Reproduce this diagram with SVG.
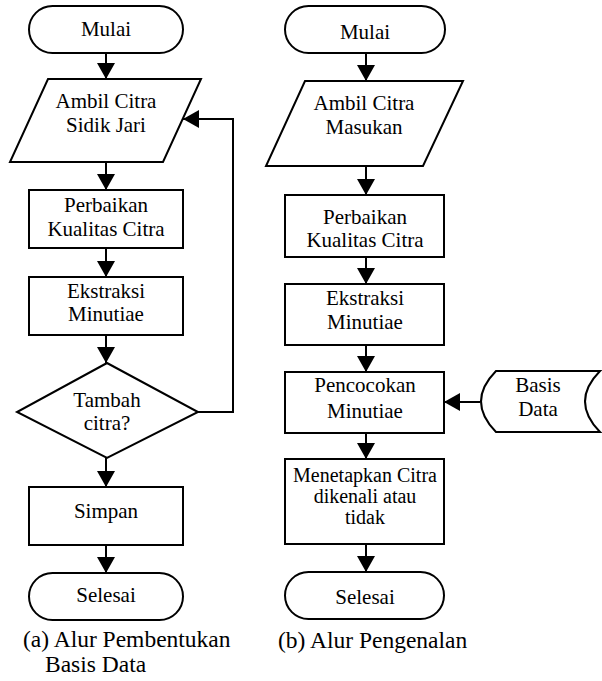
<svg xmlns="http://www.w3.org/2000/svg" width="602" height="681" viewBox="0 0 602 681">
<defs>
<style>
.s{fill:#fff;stroke:#000;stroke-width:2}
.t{font-family:'Liberation Serif','Times New Roman',serif;font-size:21px;fill:#000;text-anchor:middle}
.c{font-family:'Liberation Serif','Times New Roman',serif;font-size:23.5px;fill:#000}
.e{fill:none;stroke:#000;stroke-width:2}
</style>
<marker id="ah" markerWidth="16" markerHeight="18" refX="16" refY="9" orient="auto" markerUnits="userSpaceOnUse">
<path d="M0,0 L16,9 L0,18 Z" fill="#000"/>
</marker>
</defs>
<rect width="602" height="681" fill="#fff"/>
<g id="connectors">
<line class="e" x1="106" y1="53" x2="106" y2="79" marker-end="url(#ah)"/>
<line class="e" x1="106" y1="162" x2="106" y2="190" marker-end="url(#ah)"/>
<line class="e" x1="106" y1="248" x2="106" y2="277" marker-end="url(#ah)"/>
<line class="e" x1="106" y1="335" x2="106" y2="363" marker-end="url(#ah)"/>
<line class="e" x1="106" y1="458" x2="106" y2="487" marker-end="url(#ah)"/>
<line class="e" x1="106" y1="545" x2="106" y2="573" marker-end="url(#ah)"/>
<polyline class="e" points="198,412 233,412 233,119 183,119" marker-end="url(#ah)"/>
<line class="e" x1="366" y1="53" x2="366" y2="81" marker-end="url(#ah)"/>
<line class="e" x1="366" y1="166" x2="366" y2="195" marker-end="url(#ah)"/>
<line class="e" x1="366" y1="257" x2="366" y2="284" marker-end="url(#ah)"/>
<line class="e" x1="366" y1="345" x2="366" y2="372" marker-end="url(#ah)"/>
<line class="e" x1="366" y1="433" x2="366" y2="459" marker-end="url(#ah)"/>
<line class="e" x1="366" y1="544" x2="366" y2="572" marker-end="url(#ah)"/>
<line class="e" x1="480" y1="402" x2="444" y2="402" marker-end="url(#ah)"/>
</g>
<g id="a-mulai">
<rect class="s" x="29" y="6" width="154" height="47" rx="23.5"/>
<text class="t" x="106" y="36">Mulai</text>
</g>
<g id="a-ambil">
<polygon class="s" points="48,79 201,79 163,162 10,162"/>
<text class="t" x="106" y="108">Ambil Citra</text>
<text class="t" x="106" y="132">Sidik Jari</text>
</g>
<g id="a-perbaikan">
<rect class="s" x="29" y="190" width="154" height="58"/>
<text class="t" x="106" y="212">Perbaikan</text>
<text class="t" x="106" y="236">Kualitas Citra</text>
</g>
<g id="a-ekstraksi">
<rect class="s" x="29" y="277" width="154" height="58"/>
<text class="t" x="106" y="298">Ekstraksi</text>
<text class="t" x="106" y="321">Minutiae</text>
</g>
<g id="a-tambah">
<polygon class="s" points="107,363 198,412 107,458 17,412"/>
<text class="t" x="107" y="407">Tambah</text>
<text class="t" x="107" y="430">citra?</text>
</g>
<g id="a-simpan">
<rect class="s" x="29" y="487" width="154" height="58"/>
<text class="t" x="106" y="518">Simpan</text>
</g>
<g id="a-selesai">
<rect class="s" x="29" y="573" width="154" height="47" rx="23.5"/>
<text class="t" x="106" y="602">Selesai</text>
</g>
<g id="b-mulai">
<rect class="s" x="285" y="6" width="160" height="47" rx="23.5"/>
<text class="t" x="365" y="39">Mulai</text>
</g>
<g id="b-ambil">
<polygon class="s" points="305,81 463,81 423,166 266,166"/>
<text class="t" x="364" y="110">Ambil Citra</text>
<text class="t" x="364" y="134">Masukan</text>
</g>
<g id="b-perbaikan">
<rect class="s" x="285" y="195" width="159" height="62"/>
<text class="t" x="365" y="224">Perbaikan</text>
<text class="t" x="365" y="247">Kualitas Citra</text>
</g>
<g id="b-ekstraksi">
<rect class="s" x="285" y="284" width="159" height="61"/>
<text class="t" x="365" y="305">Ekstraksi</text>
<text class="t" x="365" y="329">Minutiae</text>
</g>
<g id="b-pencocokan">
<rect class="s" x="285" y="372" width="159" height="61"/>
<text class="t" x="365" y="392">Pencocokan</text>
<text class="t" x="365" y="418">Minutiae</text>
</g>
<g id="b-menetapkan">
<rect class="s" x="285" y="459" width="159" height="85"/>
<text class="t" x="365" y="482" style="font-size:20px">Menetapkan Citra</text>
<text class="t" x="365" y="503" style="font-size:20px">dikenali atau</text>
<text class="t" x="365" y="524" style="font-size:20px">tidak</text>
</g>
<g id="b-selesai">
<rect class="s" x="285" y="572" width="159" height="47" rx="23.5"/>
<text class="t" x="365" y="604">Selesai</text>
</g>
<g id="b-basisdata">
<path class="s" d="M496,371 L600,371 Q570,401.5 600,432 L496,432 Q466,401.5 496,371 Z"/>
<text class="t" x="538" y="392">Basis</text>
<text class="t" x="538" y="416">Data</text>
</g>
<g id="captions">
<text class="c" x="23" y="647">(a) Alur Pembentukan</text>
<text class="c" x="45" y="672">Basis Data</text>
<text class="c" x="278" y="648">(b) Alur Pengenalan</text>
</g>
</svg>
